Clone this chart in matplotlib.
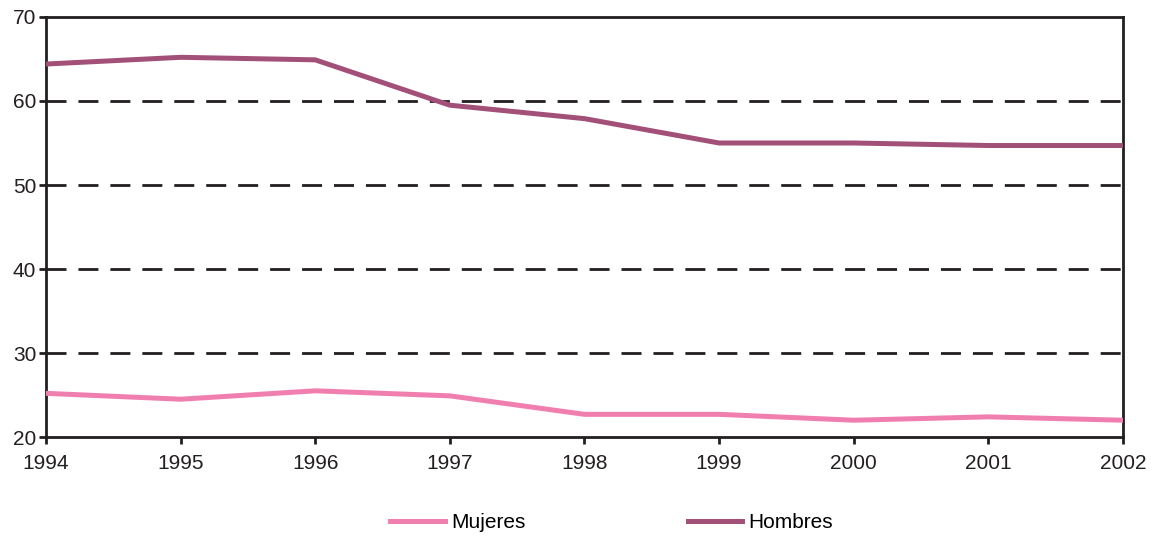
import matplotlib.pyplot as plt

plt.rcParams['font.family'] = ['Liberation Sans', 'DejaVu Sans']

anios = [1994, 1995, 1996, 1997, 1998, 1999, 2000, 2001, 2002]
mujeres = [25.2, 24.5, 25.5, 24.9, 22.7, 22.7, 22.0, 22.4, 22.0]
hombres = [64.4, 65.2, 64.9, 59.5, 57.9, 55.0, 55.0, 54.7, 54.7]

color_muj = "#f07fb0"
color_hom = "#a35078"
negro = "#231f20"

fig = plt.figure(figsize=(11.56, 5.41), dpi=100)
ax = fig.add_axes([0.0398, 0.1922, 0.9316, 0.7764])

for y in [30, 40, 50, 60]:
    ax.axhline(y, color=negro, lw=2, linestyle=(0, (7.2, 4.3)), zorder=1)

ax.plot(anios, mujeres, color=color_muj, lw=3.6, label="Mujeres", zorder=3)
ax.plot(anios, hombres, color=color_hom, lw=3.6, label="Hombres", zorder=3)

ax.set_xlim(1994, 2002)
ax.set_ylim(20, 70)
ax.set_xticks(anios)
ax.set_yticks([20, 30, 40, 50, 60, 70])
for s in ax.spines.values():
    s.set_color(negro)
    s.set_linewidth(2)
ax.tick_params(colors=negro, labelcolor=negro, labelsize=15, width=2, length=5, direction="out")
ax.tick_params(axis="y", pad=2)
ax.tick_params(axis="x", pad=7)

leg = fig.legend(loc="center", ncol=2, frameon=False,
                 fontsize=15, handlelength=2.6, handletextpad=0.3, columnspacing=7.8)
leg.set_bbox_to_anchor((0.529, 1 - 523 / 541), transform=fig.transFigure)

fig.savefig("out.png", dpi=100)
